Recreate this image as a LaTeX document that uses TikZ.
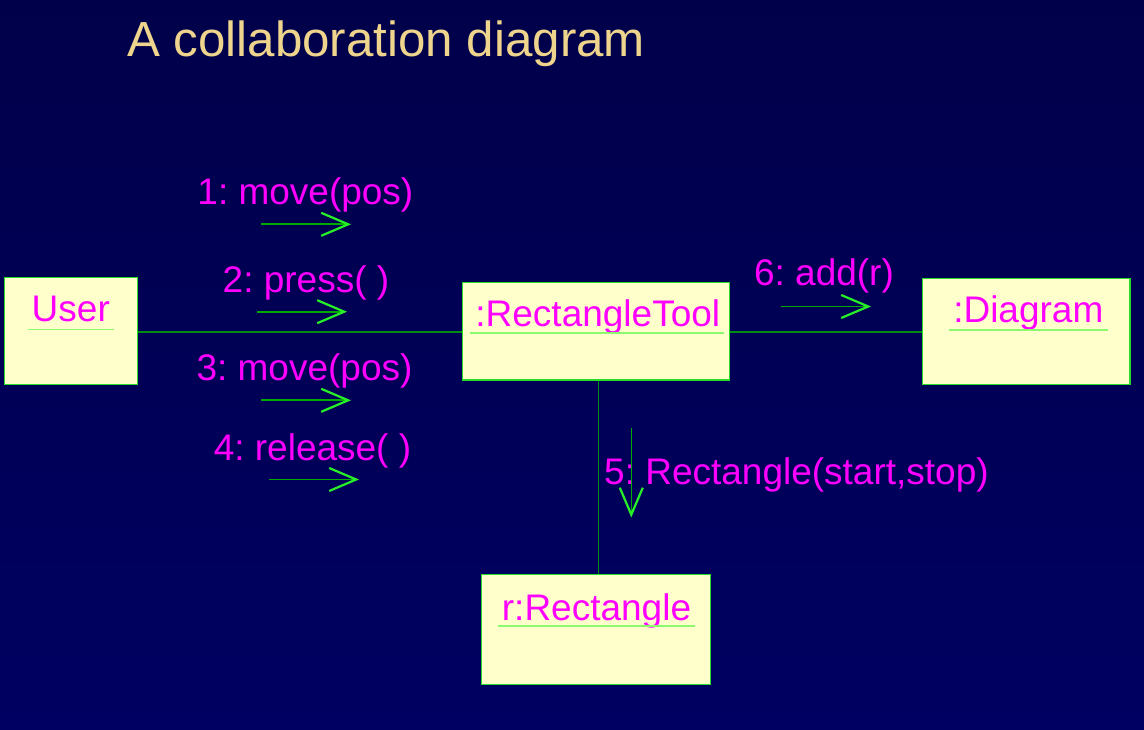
\documentclass[tikz,border=0pt]{standalone}
\usepackage{fontspec}
\setmainfont{Liberation Sans}
\frenchspacing
\usetikzlibrary{arrows.meta}
\definecolor{bgtop}{RGB}{0,0,74}
\definecolor{bgmid}{RGB}{0,0,118}
\definecolor{bgbot}{RGB}{0,0,98}
\definecolor{titlecol}{RGB}{238,212,140}
\definecolor{labcol}{RGB}{255,0,255}
\definecolor{boxfill}{RGB}{255,255,204}
\definecolor{boxline}{RGB}{40,220,40}
\definecolor{ulcol}{RGB}{140,250,110}
\definecolor{linkcol}{RGB}{0,140,20}
\definecolor{shaftcol}{RGB}{0,170,0}
\definecolor{headcol}{RGB}{40,240,40}
\tikzset{
  objbox/.style={draw=boxline, line width=1.2pt, fill=boxfill, rectangle, inner sep=0pt},
  objtext/.style={text=labcol, font=\fontsize{37}{44}\selectfont, inner sep=0pt, anchor=base},
  msgtext/.style={text=labcol, font=\fontsize{37}{44}\selectfont, inner sep=0pt, anchor=base},
  uline/.style={draw=ulcol, line width=1.4pt},
  link/.style={draw=linkcol, line width=1.3pt},
  msg/.style={draw=shaftcol, line width=1.8pt,
    -{Straight Barb[length=27pt, width=23pt, line width=2.2pt, color=headcol]}},
}
\begin{document}
\begin{tikzpicture}[x=1pt, y=-1pt]
\useasboundingbox (0,0) rectangle (1144,730);
\shade[top color=bgtop, middle color=bgmid, bottom color=bgbot] (0,0) rectangle (1144,730);

% title
\node[text=titlecol, font=\fontsize{49.3}{59}\selectfont, inner sep=0pt, anchor=base west] (title) at (127,57) {A collaboration diagram};

% object boxes
\node[objbox, minimum width=133pt, minimum height=107pt] (user) at (70.7,330.8) {};
\node[objbox, minimum width=266.6pt, minimum height=97.7pt] (rt) at (596,331.2) {};
\node[objbox, minimum width=207.7pt, minimum height=106pt] (diag) at (1026.2,331.3) {};
\node[objbox, minimum width=229pt, minimum height=110pt] (rrect) at (596.2,629.3) {};

% connectors
\draw[link] (rt.west |- 0,332) coordinate (l1b) -- (user.east |- 0,332) coordinate (l1a);
\draw[link] (rt.east |- 0,332) coordinate (l2a) -- (diag.west |- 0,332) coordinate (l2b);
\draw[link] ([xshift=2.3pt]rt.south) coordinate (l3a) -- ([xshift=2.3pt]rt.south |- rrect.north) coordinate (l3b);

% object names
\node[objtext] (tuser) at (70.8,321.7) {User};
\node[objtext] (trt) at (597.8,326.7) {:RectangleTool};
\node[objtext] (tdiag) at (1028.3,322.7) {:Diagram};
\node[objtext] (trrect) at (596.5,620) {r:Rectangle};
\draw[uline] ([xshift=-4pt,yshift=-7.5pt]tuser.base west) -- ([xshift=4pt,yshift=-7.5pt]tuser.base east);
\draw[uline] ([xshift=-5pt,yshift=-6.3pt]trt.base west) -- ([xshift=4pt,yshift=-6.3pt]trt.base east);
\draw[uline] ([xshift=-4pt,yshift=-7.3pt]tdiag.base west) -- ([xshift=4pt,yshift=-7.3pt]tdiag.base east);
\draw[uline] ([xshift=-4pt,yshift=-6pt]trrect.base west) -- ([xshift=4pt,yshift=-6pt]trrect.base east);

% message labels
\node[msgtext] (m1) at (305.4,204.3) {1: move(pos)};
\node[msgtext] (m2) at (306,292.3) {2: press( )};
\node[msgtext] (m3) at (304.5,380.7) {3: move(pos)};
\node[msgtext] (m4) at (312.5,460.7) {4: release( )};
\node[msgtext] (m6) at (824,285.7) {6: add(r)};
\node[msgtext, anchor=base west] (m5) at (604,484) {5: Rectangle(start,stop)};

% message arrows
\coordinate (a1s) at (261,224.3);   \coordinate (a1e) at (351,224.3);
\coordinate (a2s) at (257,311.7);   \coordinate (a2e) at (347,311.7);
\coordinate (a3s) at (261,400.3);   \coordinate (a3e) at (351,400.3);
\coordinate (a4s) at (269,479.5);   \coordinate (a4e) at (359,479.5);
\coordinate (a6s) at (780.7,306.5); \coordinate (a6e) at (871,306.5);
\coordinate (a5s) at (631.3,428.3); \coordinate (a5e) at (631.3,517.5);
\draw[msg] (a1s) -- (a1e);
\draw[msg] (a2s) -- (a2e);
\draw[msg] (a3s) -- (a3e);
\draw[msg] (a4s) -- (a4e);
\draw[msg] (a6s) -- (a6e);
\draw[msg, line width=1.1pt] (a5s) -- (a5e);
\end{tikzpicture}
\end{document}
